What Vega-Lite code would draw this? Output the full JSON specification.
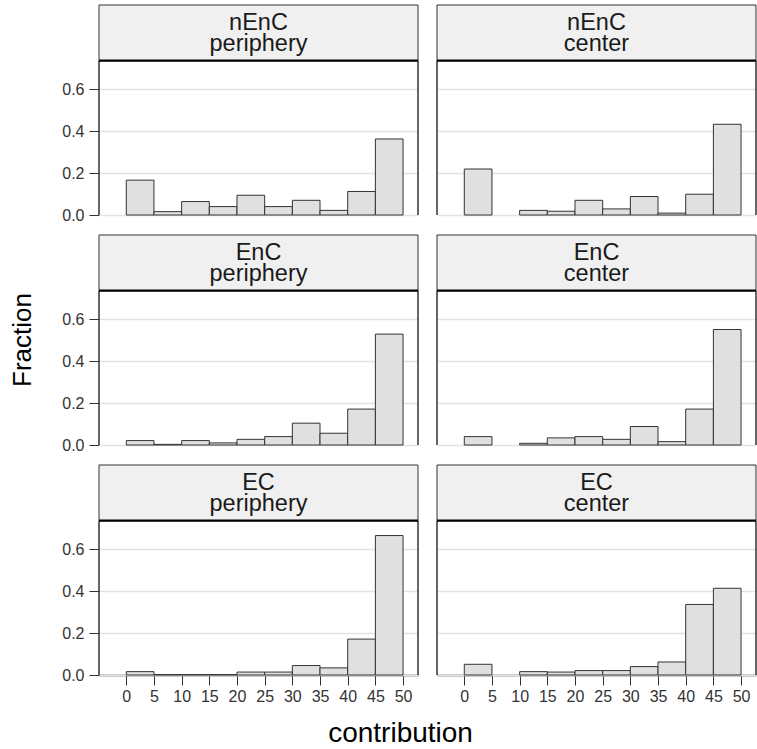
{
  "$schema": "https://vega.github.io/schema/vega-lite/v6.json",
  "padding": {"left": 10, "top": 4, "right": 0, "bottom": 5},
  "background": "white",
  "bounds": "flush",
  "title": {"text": "contribution", "orient": "bottom", "anchor": "middle", "frame": "bounds", "font": "Liberation Sans", "fontSize": 28, "fontWeight": "normal", "color": "black", "offset": 16, "dx": 17},
  "config": {
    "font": "Liberation Sans",
    "view": {"stroke": null},
    "axis": {"labelFont": "Liberation Sans", "titleFont": "Liberation Sans"}
  },
  "data": {
    "values": [
      {"type": "nEnC", "loc": "periphery", "start": 0, "end": 5, "fraction": 0.166},
      {"type": "nEnC", "loc": "periphery", "start": 5, "end": 10, "fraction": 0.016},
      {"type": "nEnC", "loc": "periphery", "start": 10, "end": 15, "fraction": 0.064},
      {"type": "nEnC", "loc": "periphery", "start": 15, "end": 20, "fraction": 0.040},
      {"type": "nEnC", "loc": "periphery", "start": 20, "end": 25, "fraction": 0.094},
      {"type": "nEnC", "loc": "periphery", "start": 25, "end": 30, "fraction": 0.040},
      {"type": "nEnC", "loc": "periphery", "start": 30, "end": 35, "fraction": 0.070},
      {"type": "nEnC", "loc": "periphery", "start": 35, "end": 40, "fraction": 0.022},
      {"type": "nEnC", "loc": "periphery", "start": 40, "end": 45, "fraction": 0.112},
      {"type": "nEnC", "loc": "periphery", "start": 45, "end": 50, "fraction": 0.362},
      {"type": "nEnC", "loc": "center", "start": 0, "end": 5, "fraction": 0.219},
      {"type": "nEnC", "loc": "center", "start": 10, "end": 15, "fraction": 0.022},
      {"type": "nEnC", "loc": "center", "start": 15, "end": 20, "fraction": 0.018},
      {"type": "nEnC", "loc": "center", "start": 20, "end": 25, "fraction": 0.070},
      {"type": "nEnC", "loc": "center", "start": 25, "end": 30, "fraction": 0.029},
      {"type": "nEnC", "loc": "center", "start": 30, "end": 35, "fraction": 0.088},
      {"type": "nEnC", "loc": "center", "start": 35, "end": 40, "fraction": 0.009},
      {"type": "nEnC", "loc": "center", "start": 40, "end": 45, "fraction": 0.099},
      {"type": "nEnC", "loc": "center", "start": 45, "end": 50, "fraction": 0.432},
      {"type": "EnC", "loc": "periphery", "start": 0, "end": 5, "fraction": 0.021},
      {"type": "EnC", "loc": "periphery", "start": 5, "end": 10, "fraction": 0.003},
      {"type": "EnC", "loc": "periphery", "start": 10, "end": 15, "fraction": 0.021},
      {"type": "EnC", "loc": "periphery", "start": 15, "end": 20, "fraction": 0.010},
      {"type": "EnC", "loc": "periphery", "start": 20, "end": 25, "fraction": 0.027},
      {"type": "EnC", "loc": "periphery", "start": 25, "end": 30, "fraction": 0.040},
      {"type": "EnC", "loc": "periphery", "start": 30, "end": 35, "fraction": 0.104},
      {"type": "EnC", "loc": "periphery", "start": 35, "end": 40, "fraction": 0.056},
      {"type": "EnC", "loc": "periphery", "start": 40, "end": 45, "fraction": 0.171},
      {"type": "EnC", "loc": "periphery", "start": 45, "end": 50, "fraction": 0.528},
      {"type": "EnC", "loc": "center", "start": 0, "end": 5, "fraction": 0.040},
      {"type": "EnC", "loc": "center", "start": 10, "end": 15, "fraction": 0.008},
      {"type": "EnC", "loc": "center", "start": 15, "end": 20, "fraction": 0.034},
      {"type": "EnC", "loc": "center", "start": 20, "end": 25, "fraction": 0.040},
      {"type": "EnC", "loc": "center", "start": 25, "end": 30, "fraction": 0.027},
      {"type": "EnC", "loc": "center", "start": 30, "end": 35, "fraction": 0.088},
      {"type": "EnC", "loc": "center", "start": 35, "end": 40, "fraction": 0.016},
      {"type": "EnC", "loc": "center", "start": 40, "end": 45, "fraction": 0.171},
      {"type": "EnC", "loc": "center", "start": 45, "end": 50, "fraction": 0.550},
      {"type": "EC", "loc": "periphery", "start": 0, "end": 5, "fraction": 0.016},
      {"type": "EC", "loc": "periphery", "start": 5, "end": 10, "fraction": 0.002},
      {"type": "EC", "loc": "periphery", "start": 10, "end": 15, "fraction": 0.002},
      {"type": "EC", "loc": "periphery", "start": 15, "end": 20, "fraction": 0.002},
      {"type": "EC", "loc": "periphery", "start": 20, "end": 25, "fraction": 0.014},
      {"type": "EC", "loc": "periphery", "start": 25, "end": 30, "fraction": 0.014},
      {"type": "EC", "loc": "periphery", "start": 30, "end": 35, "fraction": 0.045},
      {"type": "EC", "loc": "periphery", "start": 35, "end": 40, "fraction": 0.034},
      {"type": "EC", "loc": "periphery", "start": 40, "end": 45, "fraction": 0.171},
      {"type": "EC", "loc": "periphery", "start": 45, "end": 50, "fraction": 0.664},
      {"type": "EC", "loc": "center", "start": 0, "end": 5, "fraction": 0.051},
      {"type": "EC", "loc": "center", "start": 10, "end": 15, "fraction": 0.016},
      {"type": "EC", "loc": "center", "start": 15, "end": 20, "fraction": 0.014},
      {"type": "EC", "loc": "center", "start": 20, "end": 25, "fraction": 0.021},
      {"type": "EC", "loc": "center", "start": 25, "end": 30, "fraction": 0.021},
      {"type": "EC", "loc": "center", "start": 30, "end": 35, "fraction": 0.040},
      {"type": "EC", "loc": "center", "start": 35, "end": 40, "fraction": 0.062},
      {"type": "EC", "loc": "center", "start": 40, "end": 45, "fraction": 0.336},
      {"type": "EC", "loc": "center", "start": 45, "end": 50, "fraction": 0.413}
    ]
  },
  "facet": {
    "row": {
      "field": "type", "type": "nominal", "sort": ["nEnC", "EnC", "EC"],
      "header": {"labels": false, "title": "Fraction", "titleOrient": "left", "titleFont": "Liberation Sans", "titleFontSize": 26, "titleFontWeight": "normal", "titleColor": "black", "titlePadding": 15}
    },
    "column": {
      "field": "loc", "type": "nominal", "sort": ["periphery", "center"],
      "header": {"labels": false, "title": null}
    }
  },
  "spacing": {"row": 20, "column": 19},
  "spec": {
    "width": 319,
    "height": 210,
    "layer": [
      {
        "transform": [{"aggregate": [{"op": "count", "as": "n"}], "groupby": ["type", "loc"]}],
        "mark": {"type": "rect", "fill": "#f0f0f0", "stroke": "#333333", "strokeWidth": 1},
        "encoding": {
          "x": {
            "datum": -4.93, "type": "quantitative",
            "scale": {"domain": [-4.93, 52.7], "nice": false, "zero": false},
            "axis": {
              "title": null, "values": [0, 5, 10, 15, 20, 25, 30, 35, 40, 45, 50], "tickCount": 12,
              "labelOverlap": false, "labelFontSize": 16, "labelColor": "#333333", "labelPadding": 3,
              "tickSize": 10, "tickColor": "#333333", "tickWidth": 1,
              "domainColor": "#111111", "domainWidth": 1.5, "grid": false
            }
          },
          "x2": {"datum": 52.7},
          "y": {
            "datum": 0.735, "type": "quantitative",
            "scale": {"domain": [0, 1.0], "nice": false},
            "axis": {
              "title": null, "values": [0, 0.2, 0.4, 0.6], "format": ".1f",
              "labelFontSize": 16, "labelColor": "#333333", "labelPadding": 5,
              "tickSize": 10, "tickColor": "#333333", "tickWidth": 1,
              "domain": false, "grid": true, "gridColor": "#e3e3e3", "gridWidth": 1.5
            }
          },
          "y2": {"datum": 1.0}
        }
      },
      {
        "mark": {"type": "rect", "fill": "#e0e0e0", "stroke": "#333333", "strokeWidth": 1},
        "encoding": {
          "x": {
            "field": "start", "type": "quantitative",
            "scale": {"domain": [-4.93, 52.7], "nice": false, "zero": false},
            "axis": {
              "title": null, "values": [0, 5, 10, 15, 20, 25, 30, 35, 40, 45, 50], "tickCount": 12,
              "labelOverlap": false, "labelFontSize": 16, "labelColor": "#333333", "labelPadding": 3,
              "tickSize": 10, "tickColor": "#333333", "tickWidth": 1,
              "domainColor": "#111111", "domainWidth": 1.5, "grid": false
            }
          },
          "x2": {"field": "end"},
          "y": {
            "field": "fraction", "type": "quantitative",
            "scale": {"domain": [0, 1.0], "nice": false},
            "axis": {
              "title": null, "values": [0, 0.2, 0.4, 0.6], "format": ".1f",
              "labelFontSize": 16, "labelColor": "#333333", "labelPadding": 5,
              "tickSize": 10, "tickColor": "#333333", "tickWidth": 1,
              "domain": false, "grid": true, "gridColor": "#e3e3e3", "gridWidth": 1.5
            }
          }
        }
      },
      {
        "transform": [{"aggregate": [{"op": "count", "as": "n"}], "groupby": ["type", "loc"]}],
        "mark": {"type": "rule", "stroke": "#333333", "strokeWidth": 1.5},
        "encoding": {
          "x": {"datum": -4.93, "type": "quantitative"},
          "y": {"datum": 0, "type": "quantitative"},
          "y2": {"datum": 0.735}
        }
      },
      {
        "transform": [{"aggregate": [{"op": "count", "as": "n"}], "groupby": ["type", "loc"]}],
        "mark": {"type": "rule", "stroke": "#333333", "strokeWidth": 1.5},
        "encoding": {
          "x": {"datum": 52.7, "type": "quantitative"},
          "y": {"datum": 0, "type": "quantitative"},
          "y2": {"datum": 0.735}
        }
      },
      {
        "transform": [{"aggregate": [{"op": "count", "as": "n"}], "groupby": ["type", "loc"]}],
        "mark": {"type": "rule", "stroke": "#000000", "strokeWidth": 2.2},
        "encoding": {
          "x": {"datum": -4.93, "type": "quantitative"},
          "x2": {"datum": 52.7},
          "y": {"datum": 0.735, "type": "quantitative"}
        }
      },
      {
        "transform": [
          {"aggregate": [{"op": "count", "as": "n"}], "groupby": ["type", "loc"]},
          {"calculate": "[datum.type, datum.loc]", "as": "label"}
        ],
        "mark": {"type": "text", "font": "Liberation Sans", "fontSize": 23.5, "lineHeight": 21, "color": "#1a1a1a", "baseline": "alphabetic", "align": "center"},
        "encoding": {
          "x": {"datum": 23.885, "type": "quantitative"},
          "y": {"datum": 0.8795, "type": "quantitative"},
          "text": {"field": "label"}
        }
      }
    ]
  }
}
